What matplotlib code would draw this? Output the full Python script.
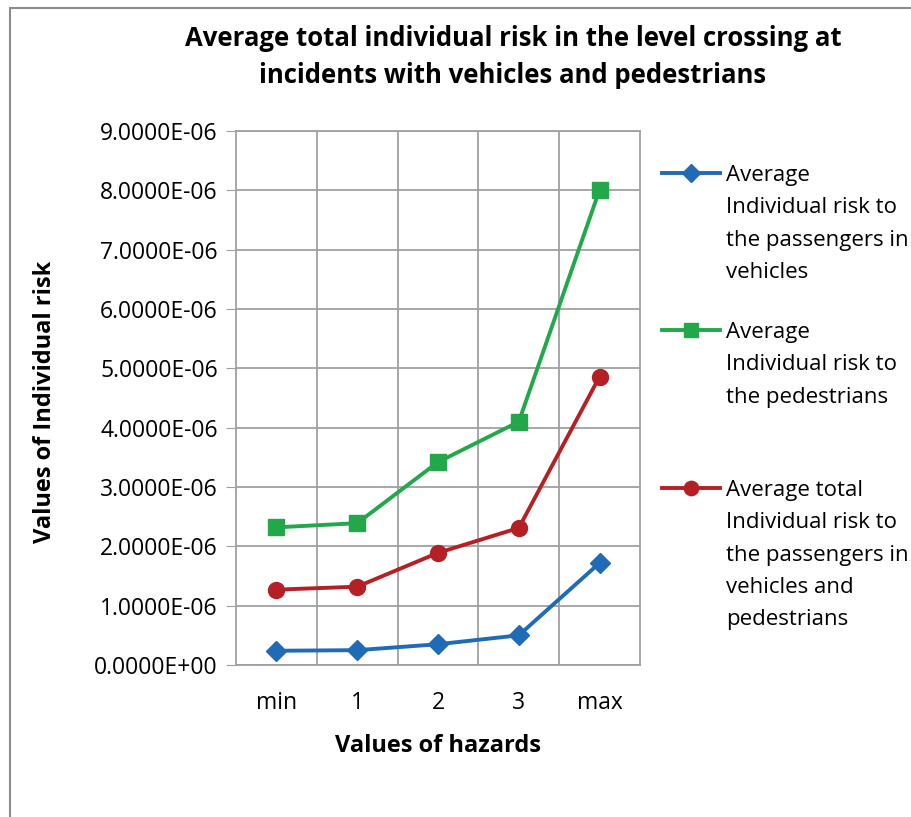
import matplotlib
matplotlib.use("Agg")
import matplotlib.pyplot as plt
from matplotlib.lines import Line2D
from matplotlib.patches import Rectangle
from matplotlib.ticker import FuncFormatter, MultipleLocator

plt.rcParams['font.family'] = ['Open Sans', 'DejaVu Sans']

hazards = ['min', '1', '2', '3', 'max']
risk_vehicles = [0.24e-6, 0.25e-6, 0.35e-6, 0.50e-6, 1.72e-6]
risk_pedestrians = [2.32e-6, 2.39e-6, 3.42e-6, 4.10e-6, 8.01e-6]
risk_total = [1.27e-6, 1.32e-6, 1.89e-6, 2.31e-6, 4.86e-6]

labels = [
    'Average\nIndividual risk to\nthe passengers in\nvehicles',
    'Average\nIndividual risk to\nthe pedestrians',
    'Average total\nIndividual risk to\nthe passengers in\nvehicles and\npedestrians',
]

W, H = 912, 817
fig = plt.figure(figsize=(W / 100, H / 100), dpi=100)
ax = fig.add_axes([236 / W, 1 - 665 / H, (640 - 236) / W, (665 - 131) / H])

# outer chart frame
fig.patches.append(Rectangle((10 / W, -0.01), 1.0, 1 - 8 / H + 0.01, transform=fig.transFigure,
                             fill=False, edgecolor='#8c8c8c', linewidth=1.5))

x = list(range(len(hazards)))
styles = [
    (risk_vehicles, '#1f6bb5', 'D', 10.5),
    (risk_pedestrians, '#22a84a', 's', 11.5),
    (risk_total, '#b52025', 'o', 11.5),
]
lines = []
for vals, col, mk, ms in styles:
    ln, = ax.plot(x, vals, color=col, marker=mk, markersize=ms, linewidth=2.8,
                  solid_joinstyle='round', zorder=3)
    lines.append(ln)

ax.set_xlim(-0.5, 4.5)
ax.set_ylim(0, 9e-6)
ax.yaxis.set_major_locator(MultipleLocator(1e-6))
ax.yaxis.set_major_formatter(FuncFormatter(lambda v, p: '{:.4E}'.format(v)))
ax.set_xticks(x)
ax.set_xticklabels(hazards)
ax.set_xticks([i + 0.5 for i in x[:-1]], minor=True)
ax.grid(True, which='major', axis='y', color='#a0a0a0', linewidth=1.3)
ax.grid(True, which='minor', axis='x', color='#a0a0a0', linewidth=1.3)
ax.tick_params(axis='y', which='major', length=7, color='#a0a0a0', labelsize=16.5, pad=6)
ax.tick_params(axis='x', which='both', length=0, labelsize=16.5, pad=19)
for s in ax.spines.values():
    s.set_color('#a0a0a0')
    s.set_linewidth(1.3)

ax.set_ylabel('Values of Individual risk', fontsize=17, fontweight='bold')
ax.yaxis.set_label_coords(45 / W, 1 - 402 / H, transform=fig.transFigure)
ax.set_xlabel('Values of hazards', fontsize=17, fontweight='bold')
ax.xaxis.set_label_coords(438 / W, 1 - 746 / H, transform=fig.transFigure)
ax.xaxis.label.set_va('center')
ax.yaxis.label.set_va('center')
fig.text(513 / W, 1 - 57 / H, 'Average total individual risk in the level crossing at\nincidents with vehicles and pedestrians',
         ha='center', va='center', fontsize=18.5, fontweight='bold', linespacing=1.5)

# manual legend
entry_y = [173, 330, 488]
for ln, lab, yy in zip(lines, labels, entry_y):
    fy = 1 - yy / H
    fig.add_artist(Line2D([662 / W, 720 / W], [fy, fy], transform=fig.transFigure,
                          color=ln.get_color(), linewidth=2.8))
    fig.add_artist(Line2D([691 / W], [fy], transform=fig.transFigure, color=ln.get_color(),
                          marker=ln.get_marker(), markersize=ln.get_markersize() * 0.9, linestyle='none'))
    fig.text(726 / W, fy + 8 / H, lab, ha='left', va='top', fontsize=16, linespacing=1.71)

fig.savefig('out.png', dpi=100)
